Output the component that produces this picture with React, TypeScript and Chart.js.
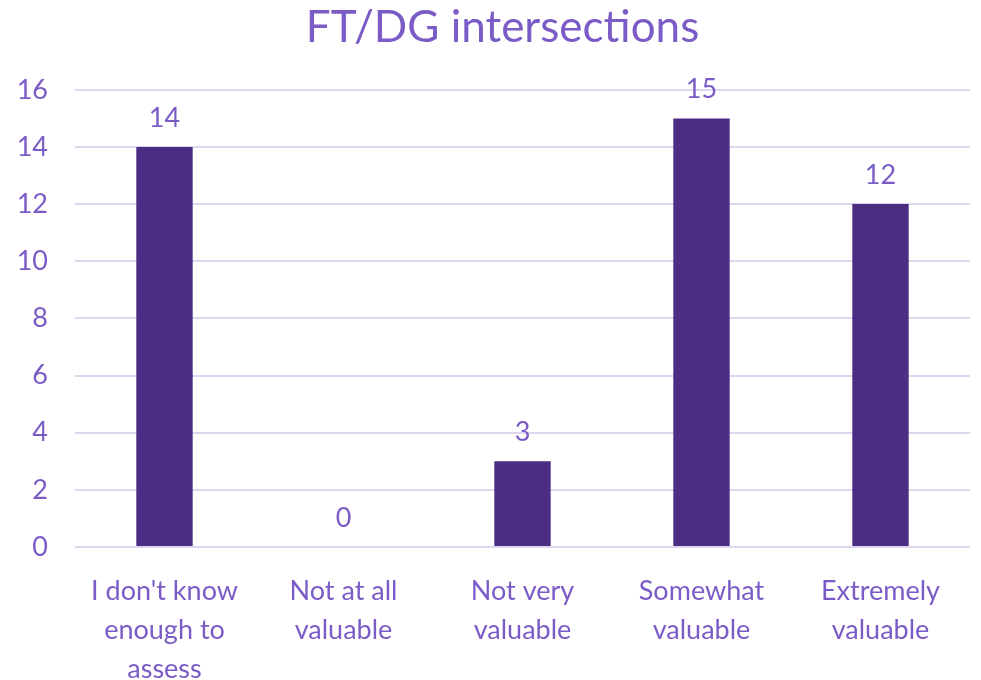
import React, { useEffect, useRef } from "react";
import { Chart, registerables } from "chart.js";

Chart.register(...registerables);

const categories: string[][] = [
  ["I don't know", "enough to", "assess"],
  ["Not at all", "valuable"],
  ["Not very", "valuable"],
  ["Somewhat", "valuable"],
  ["Extremely", "valuable"],
];
const values: number[] = [14, 0, 3, 15, 12];
const titleText = "FT/DG intersections";

const TEXT = "#7b5cc6";
const BAR = "#4b2d83";
const GRID = "#ddd6f0";
const FONT = "Lato, 'Open Sans', sans-serif";

const valueLabels = {
  id: "valueLabels",
  afterDatasetsDraw(chart: any) {
    const ctx = chart.ctx;
    const meta = chart.getDatasetMeta(0);
    ctx.save();
    ctx.fillStyle = TEXT;
    ctx.font = `27px ${FONT}`;
    ctx.textAlign = "center";
    ctx.textBaseline = "middle";
    meta.data.forEach((el: any, i: number) => {
      ctx.fillText(String(values[i]), el.x, el.y - 29);
    });
    // title centred a little right of the canvas centre, like the reference
    const t = chart.titleBlock;
    ctx.font = `44px ${FONT}`;
    ctx.fillText(titleText, (chart.chartArea.left + chart.chartArea.right) / 2 - 20, t.top + t.height / 2 - 17);
    ctx.restore();
  },
};

export default function App() {
  const ref = useRef<HTMLCanvasElement | null>(null);
  useEffect(() => {
    if (!ref.current) return;
    const chart = new Chart(ref.current, {
      type: "bar",
      data: {
        labels: categories,
        datasets: [
          {
            data: values,
            backgroundColor: BAR,
            barPercentage: 0.63,
            categoryPercentage: 0.5,
          },
        ],
      },
      options: {
        animation: false,
        responsive: false,
        layout: { padding: { left: 0, right: 11, top: 0, bottom: 0 } },
        plugins: {
          legend: { display: false },
          tooltip: { enabled: false },
          title: {
            display: true,
            text: titleText,
            color: "rgba(0,0,0,0)",
            font: { family: FONT, size: 44, weight: "normal" },
            padding: { top: 2, bottom: 35 },
          },
        },
        scales: {
          x: {
            grid: { display: false },
            border: { display: false },
            ticks: {
              color: TEXT,
              font: { family: FONT, size: 27, lineHeight: 1.44 },
              padding: 17,
              maxRotation: 0,
              autoSkip: false,
            },
            afterFit: (s: any) => {
              s.height = 133;
            },
          },
          y: {
            min: 0,
            max: 16,
            ticks: {
              stepSize: 2,
              color: TEXT,
              font: { family: FONT, size: 27 },
              padding: 27,
            },
            grid: { color: GRID, lineWidth: 2, drawTicks: false },
            border: { display: false },
            afterFit: (s: any) => {
              s.width = 75;
            },
          },
        },
      },
      plugins: [valueLabels],
    });
    return () => chart.destroy();
  }, []);
  return (
    <div style={{ position: "fixed", left: 0, top: 0, width: 981, height: 680, background: "#fff" }}>
      <canvas ref={ref} width={981} height={680} />
    </div>
  );
}
